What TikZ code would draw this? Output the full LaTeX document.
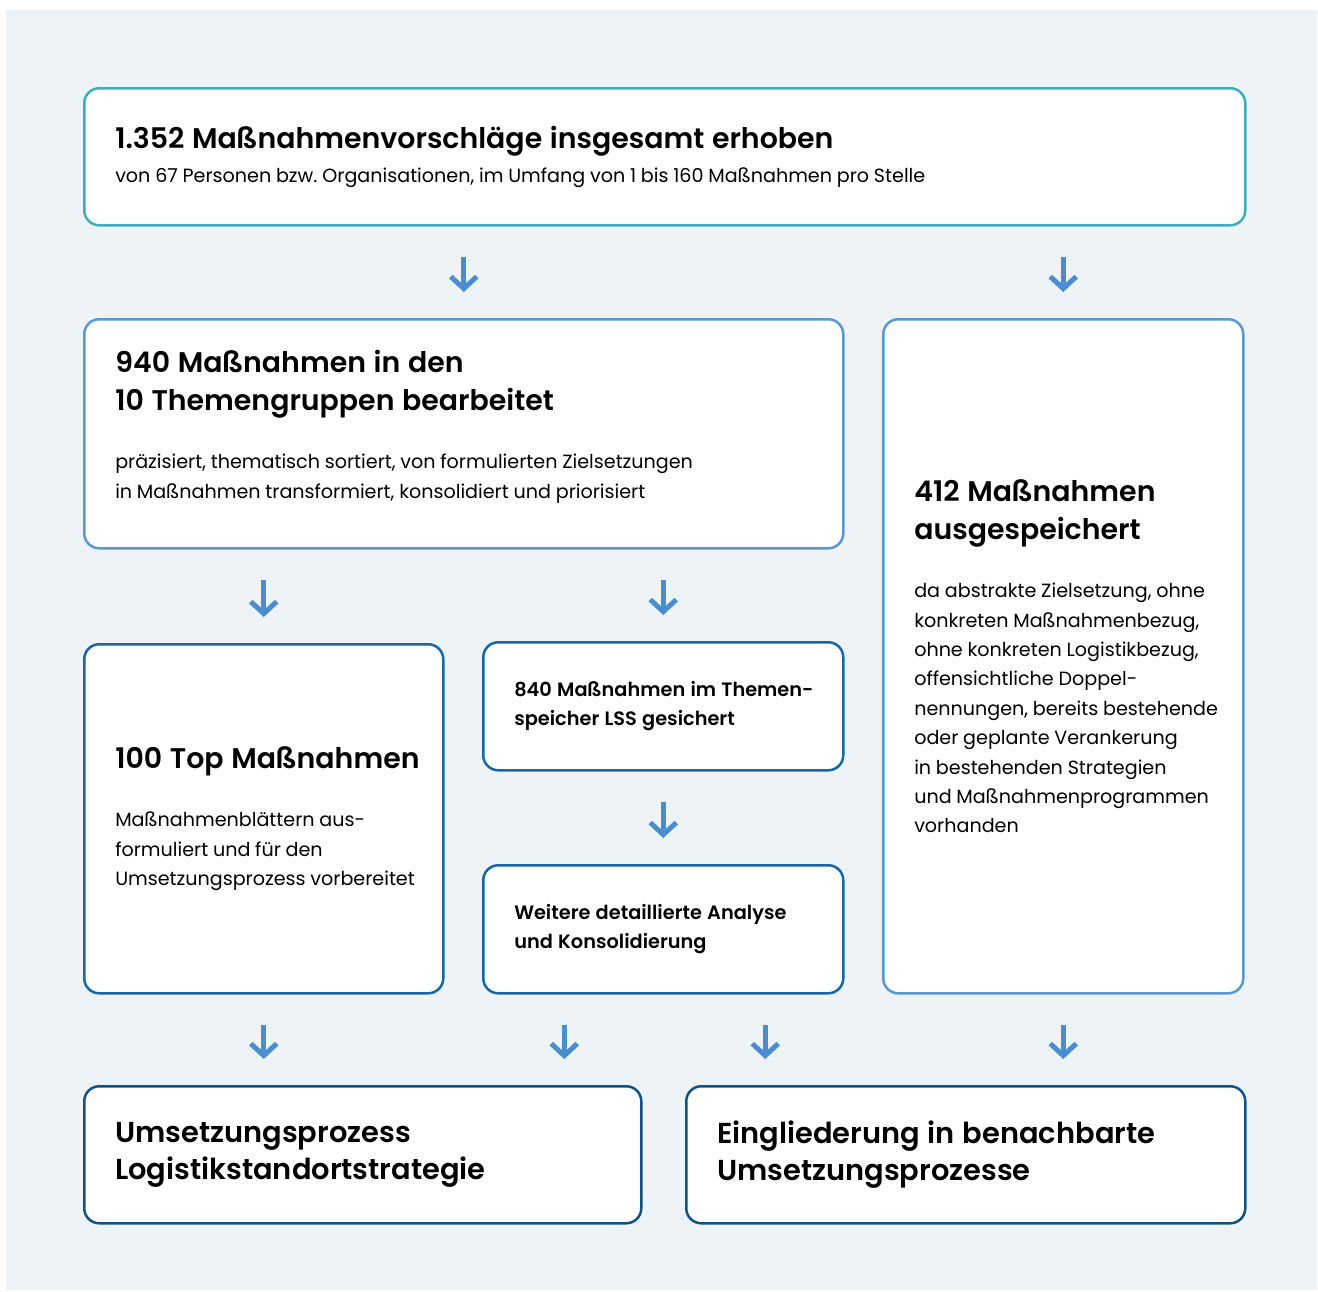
\documentclass[tikz,border=0pt]{standalone}
\usepackage{fontspec}
\setmainfont{Poppins}[BoldFont={Poppins SemiBold}]
\usetikzlibrary{arrows.meta}

\definecolor{panelbg}{HTML}{EEF3F7}
\definecolor{tealline}{HTML}{3BAFC0}
\definecolor{midline}{HTML}{5B97D3}
\definecolor{lowline}{HTML}{1766A6}
\definecolor{endline}{HTML}{0F5283}
\definecolor{arrowblue}{HTML}{4A8ED0}

% lines are broken by hand; keep TeX from breaking them again
\newcommand{\nobreaks}{\hyphenpenalty=10000 \rightskip=-40bp plus 1fil\relax}
\newcommand{\headfont}{\fontsize{28.5}{38}\selectfont\bfseries\spaceskip=.27em\nobreaks}
\newcommand{\bodyfont}{\fontsize{19.2}{29.5}\selectfont\spaceskip=.25em\nobreaks}
\newcommand{\smallhead}{\fontsize{19.4}{29.5}\selectfont\bfseries\spaceskip=.27em\nobreaks}
\newcommand{\goalfont}{\fontsize{29}{37}\selectfont\bfseries\spaceskip=.27em\nobreaks}

\begin{document}
\begin{tikzpicture}[x=1bp,y=-1bp,
    box/.style={draw, line width=2.5bp, rounded corners=15bp, fill=white,
      anchor=north west, align=left, inner xsep=31bp, inner ysep=0pt},
    down/.style={-{Straight Barb[length=12bp,width=26bp]}, arrowblue,
      line width=5bp, shorten <=30bp, shorten >=26bp}]

  % background
  \useasboundingbox (0,0) rectangle (1318,1291);
  \fill[panelbg] (6,10) rectangle (1317,1290);

  % boxes
  \node[box, draw=tealline, minimum width=1161bp, minimum height=137bp,
    text width=1099bp] (total) at (83,87)
    {{\headfont 1.352 Maßnahmenvorschläge insgesamt erhoben\par}
     \vspace{5bp}
     {\bodyfont von 67 Personen bzw. Organisationen, im Umfang von 1 bis 160 Maßnahmen pro Stelle\par}};

  \node[box, draw=midline, minimum width=759bp, minimum height=229bp,
    text width=697bp] (themen) at (83,318)
    {{\headfont 940 Maßnahmen in den\\10 Themengruppen bearbeitet\par}
     \vspace{29bp}
     {\bodyfont präzisiert, thematisch sortiert, von formulierten Zielsetzungen\\
      in Maßnahmen transformiert, konsolidiert und priorisiert\par}
     \kern14bp};

  \node[box, draw=midline, minimum width=360bp, minimum height=674bp,
    text width=298bp] (aus) at (882,318)
    {{\headfont 412 Maßnahmen\\ausgespeichert\par}
     \vspace{29bp}
     {\bodyfont da abstrakte Zielsetzung, ohne\\
      konkreten Maßnahmenbezug,\\
      ohne konkreten Logistikbezug,\\
      offensichtliche Doppel-\\
      nennungen, bereits bestehende\\
      oder geplante Verankerung\\
      in bestehenden Strategien\\
      und Maßnahmenprogrammen\\
      vorhanden\par}};

  \node[box, draw=lowline, minimum width=359bp, minimum height=349bp,
    text width=297bp] (top) at (83,643)
    {{\headfont 100 Top Maßnahmen\par}
     \vspace{29bp}
     {\bodyfont Maßnahmenblättern aus-\\
      formuliert und für den\\
      Umsetzungsprozess vorbereitet\par}};

  \node[box, draw=lowline, minimum width=360bp, minimum height=128bp,
    text width=298bp] (speicher) at (482,641)
    {{\smallhead 840 Maßnahmen im Themen-\\speicher LSS gesichert\par}};

  \node[box, draw=lowline, minimum width=360bp, minimum height=128bp,
    text width=298bp] (analyse) at (482,864)
    {{\smallhead Weitere detaillierte Analyse\\und Konsolidierung\par}};

  \node[box, draw=endline, minimum width=557bp, minimum height=137bp,
    text width=495bp] (umsetzung) at (83,1085)
    {{\goalfont Umsetzungsprozess\\Logistikstandortstrategie\par}};

  \node[box, draw=endline, minimum width=559bp, minimum height=137bp,
    text width=497bp] (eingliederung) at (685,1085)
    {{\goalfont Eingliederung in benachbarte\\Umsetzungsprozesse\par}};

  % arrows
  \draw[down] (total.south -| themen.north) -- (themen.north);
  \draw[down] (total.south -| aus.north) -- (aus.north);
  \draw[down] (themen.south -| top.north) -- (top.north);
  \draw[down] (themen.south -| speicher.north) -- (speicher.north);
  \draw[down] (speicher.south) -- (analyse.north);
  \draw[down] (top.south) -- (top.south |- umsetzung.north);
  \draw[down] ([xshift=-99bp]analyse.south) -- ([xshift=-99bp]analyse.south |- umsetzung.north);
  \draw[down] ([xshift=102bp]analyse.south) -- ([xshift=102bp]analyse.south |- eingliederung.north);
  \draw[down] (aus.south) -- (aus.south |- eingliederung.north);
\end{tikzpicture}
\end{document}
